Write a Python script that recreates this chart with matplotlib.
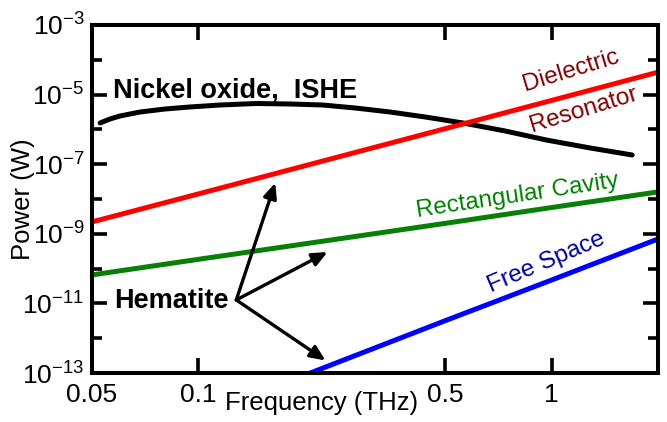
import matplotlib
matplotlib.use("Agg")
import matplotlib.pyplot as plt
from matplotlib.ticker import FixedLocator, NullFormatter, FixedFormatter

plt.rcParams['font.family'] = ['Liberation Sans', 'DejaVu Sans']
plt.rcParams['mathtext.default'] = 'regular'

# values (frequency in THz, power in W)
nio_freq = [0.0527, 0.0562, 0.0600, 0.0684, 0.0805, 0.0947, 0.1152, 0.146, 0.182,
            0.225, 0.278, 0.349, 0.439, 0.561, 0.739, 0.967, 1.287, 1.69]
nio_power = [1.53e-6, 1.99e-6, 2.43e-6, 3.16e-6, 3.86e-6, 4.41e-6, 5.02e-6, 5.55e-6, 5.37e-6,
             5.02e-6, 4.12e-6, 3.16e-6, 2.27e-6, 1.53e-6, 9.0e-7, 4.95e-7, 2.92e-7, 1.84e-7]

dielectric_freq = [0.05, 0.1, 0.5, 1.0, 2.0]
dielectric_power = [2.2e-9, 1.4e-8, 1.05e-6, 6.8e-6, 4.4e-5]

cavity_freq = [0.05, 0.1, 0.5, 1.0, 2.0]
cavity_power = [6.6e-11, 1.85e-10, 2.0e-9, 5.7e-9, 1.6e-8]

free_freq = [0.2, 0.5, 1.0, 2.0]
free_power = [8.7e-14, 3.2e-12, 4.7e-11, 7.1e-10]

x_ticks = [0.05, 0.1, 0.5, 1]
x_labels = ['0.05', '0.1', '0.5', '1']
y_major = [1e-13, 1e-11, 1e-9, 1e-7, 1e-5, 1e-3]
y_minor = [1e-12, 1e-10, 1e-8, 1e-6, 1e-4]

fig = plt.figure(figsize=(6.67, 4.22), dpi=100)
ax = fig.add_axes([0.138, 0.116, 0.8485, 0.8248])

lw = 3.6
ax.plot(nio_freq, nio_power, color='black', lw=lw, solid_capstyle='round')
ax.plot(dielectric_freq, dielectric_power, color='#ff0000', lw=lw)
ax.plot(cavity_freq, cavity_power, color='#088008', lw=lw)
ax.plot(free_freq, free_power, color='#0000ff', lw=lw)

ax.set_xscale('log')
ax.set_yscale('log')
ax.set_xlim(0.05, 2.0)
ax.set_ylim(1e-13, 1e-3)

ax.xaxis.set_major_locator(FixedLocator(x_ticks))
ax.xaxis.set_major_formatter(FixedFormatter(x_labels))
ax.xaxis.set_minor_locator(FixedLocator([]))
ax.yaxis.set_major_locator(FixedLocator(y_major))
ax.yaxis.set_minor_locator(FixedLocator(y_minor))
ax.yaxis.set_minor_formatter(NullFormatter())

ax.tick_params(which='both', direction='in', top=True, right=True, width=2.6,
               labelsize=19)
ax.tick_params(which='major', length=10.5)
ax.tick_params(which='minor', length=7)
ax.tick_params(axis='x', pad=7.5)
ax.tick_params(axis='y', pad=5.5)
for s in ax.spines.values():
    s.set_linewidth(2.9)

ax.set_xlabel('Frequency (THz)', fontsize=18.5)
ax.xaxis.set_label_coords(0.406, -0.052)
ax.set_ylabel('Power (W)', fontsize=18.5)
ax.yaxis.set_label_coords(-0.10, 0.5)

ax.text(0.0574, 8.5e-6, 'Nickel oxide,  ISHE', fontsize=19.5, fontweight='bold',
        ha='left', va='baseline')
ax.text(0.122, 7.4e-12, 'Hematite', fontsize=19.5, fontweight='bold',
        ha='right', va='baseline')

ax.text(1.137, 4.8e-5, 'Dielectric', color='#800000', fontsize=17.5,
        rotation=17, rotation_mode='anchor', ha='center', va='center')
ax.text(1.23, 3.6e-6, 'Resonator', color='#800000', fontsize=17.5,
        rotation=17, rotation_mode='anchor', ha='center', va='center')
ax.text(0.80, 1.24e-8, 'Rectangular Cavity', color='#008000', fontsize=17.5,
        rotation=8.5, rotation_mode='anchor', ha='center', va='center')
ax.text(0.966, 1.55e-10, 'Free Space', color='#000099', fontsize=17.5,
        rotation=23, rotation_mode='anchor', ha='center', va='center')

# arrows from "Hematite"
origin = (0.128, 1.26e-11)
for tip in [(0.165, 2.9e-8), (0.232, 3.0e-10), (0.229, 2.3e-13)]:
    ax.annotate('', xy=tip, xytext=origin,
                arrowprops=dict(arrowstyle='-|>,head_length=0.9,head_width=0.4',
                                color='black', lw=2.4, shrinkA=0, shrinkB=0))

fig.savefig('out.png', dpi=100)
